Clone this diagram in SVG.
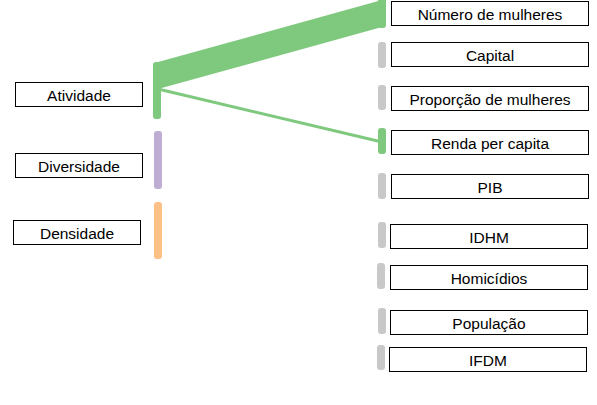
<svg xmlns="http://www.w3.org/2000/svg" width="597" height="405" viewBox="0 0 597 405">
<style>
.box{fill:#fff;stroke:#000;stroke-width:1}
.lbl{font-family:"Liberation Sans",Arial,sans-serif;font-size:15.5px;fill:#000;text-anchor:middle}
.g{fill:#7fc97f}
.p{fill:#beaed4}
.o{fill:#fdc086}
.gr{fill:#c8c8c8}
</style>
<rect width="597" height="405" fill="#fff"/>
<g id="connectors">
<polygon class="g" points="158,62 382,0 382,27 158,89"/>
<line x1="158" y1="89" x2="382" y2="142" stroke="#7fc97f" stroke-width="3"/>
</g>
<g id="atividade">
<rect class="g" x="153" y="62" width="8" height="57" rx="3"/>
<rect class="box" x="15.5" y="82.5" width="127" height="24"/>
<text class="lbl" x="79" y="100.5">Atividade</text>
</g>
<g id="diversidade">
<rect class="p" x="154" y="131" width="8" height="58" rx="3"/>
<rect class="box" x="15.5" y="153.5" width="127" height="24"/>
<text class="lbl" x="79" y="171.5">Diversidade</text>
</g>
<g id="densidade">
<rect class="o" x="154" y="202" width="8" height="57" rx="3"/>
<rect class="box" x="13.5" y="220.5" width="127" height="24"/>
<text class="lbl" x="77" y="238.5">Densidade</text>
</g>
<g id="numero">
<rect class="g" x="378" y="-3" width="8" height="31" rx="3"/>
<rect class="box" x="391.5" y="1.5" width="197" height="24"/>
<text class="lbl" x="490" y="19.5">Número de mulheres</text>
</g>
<g id="capital">
<rect class="gr" x="378" y="42" width="8" height="26" rx="3"/>
<rect class="box" x="391.5" y="42.5" width="197" height="24"/>
<text class="lbl" x="490" y="60.5">Capital</text>
</g>
<g id="proporcao">
<rect class="gr" x="378" y="85" width="8" height="25" rx="3"/>
<rect class="box" x="391.5" y="86.5" width="197" height="24"/>
<text class="lbl" x="490" y="104.5">Proporção de mulheres</text>
</g>
<g id="renda">
<rect class="g" x="378" y="128" width="8" height="26" rx="3"/>
<rect class="box" x="391.5" y="130.5" width="197" height="24"/>
<text class="lbl" x="490" y="148.5">Renda per capita</text>
</g>
<g id="pib">
<rect class="gr" x="378" y="173" width="8" height="26" rx="3"/>
<rect class="box" x="391.5" y="174.5" width="197" height="24"/>
<text class="lbl" x="490" y="192.5">PIB</text>
</g>
<g id="idhm">
<rect class="gr" x="378" y="222" width="8" height="26" rx="3"/>
<rect class="box" x="390.5" y="224.5" width="197" height="24"/>
<text class="lbl" x="489" y="242.5">IDHM</text>
</g>
<g id="homicidios">
<rect class="gr" x="377" y="263" width="8" height="26" rx="3"/>
<rect class="box" x="390.5" y="265.5" width="197" height="24"/>
<text class="lbl" x="489" y="283.5">Homicídios</text>
</g>
<g id="populacao">
<rect class="gr" x="378" y="308" width="8" height="26" rx="3"/>
<rect class="box" x="390.5" y="310.5" width="197" height="24"/>
<text class="lbl" x="489" y="328.5">População</text>
</g>
<g id="ifdm">
<rect class="gr" x="377" y="345" width="8" height="25" rx="3"/>
<rect class="box" x="389.5" y="347.5" width="197" height="24"/>
<text class="lbl" x="488" y="365.5">IFDM</text>
</g>
</svg>
